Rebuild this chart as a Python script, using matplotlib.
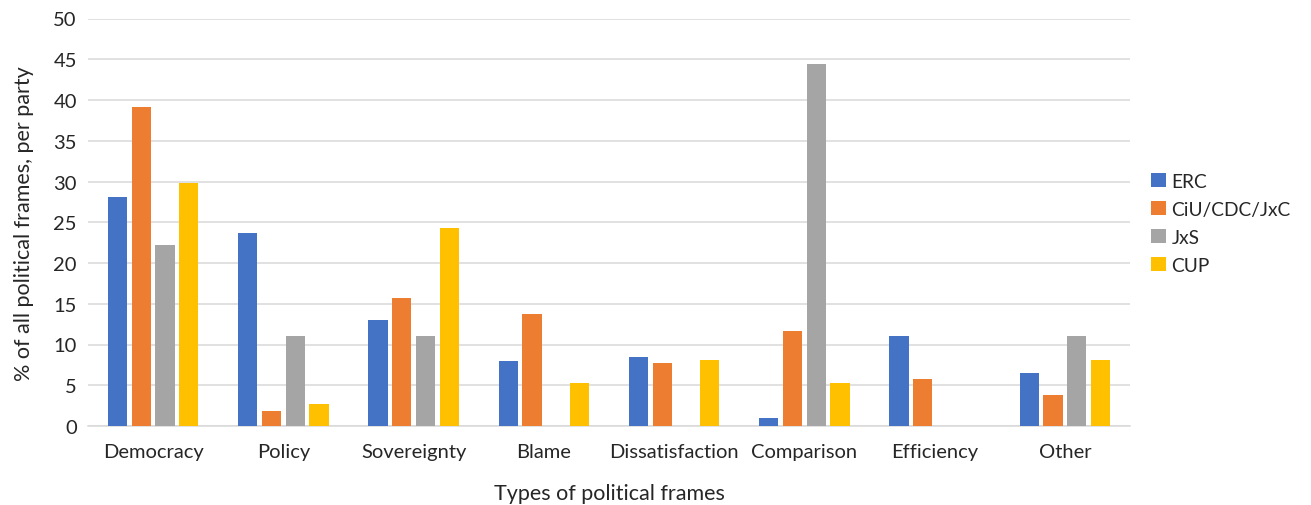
import numpy as np
import matplotlib
matplotlib.use("Agg")
import matplotlib.pyplot as plt

plt.rcParams['font.family'] = ['Lato', 'DejaVu Sans']

# категорії та значення (% від усіх політичних фреймів)
categories = ["Democracy", "Policy", "Sovereignty", "Blame",
              "Dissatisfaction", "Comparison", "Efficiency", "Other"]
parties = ["ERC", "CiU/CDC/JxC", "JxS", "CUP"]
erc = [28.1, 23.7, 13.0, 8.0, 8.5, 1.0, 11.0, 6.5]
ciu = [39.2, 1.8, 15.7, 13.7, 7.7, 11.65, 5.8, 3.8]
jxs = [22.2, 11.0, 11.0, 0, 0, 44.4, 0, 11.0]
cup = [29.8, 2.7, 24.3, 5.3, 8.1, 5.3, 0, 8.1]
series = [erc, ciu, jxs, cup]
colors = ["#4472C4", "#ED7D31", "#A5A5A5", "#FFC000"]

fig = plt.figure(figsize=(13.11, 5.06), dpi=100)
ax = fig.add_axes([88 / 1311, 1 - 427 / 506, 1042 / 1311, 407.5 / 506])

x = np.arange(len(categories))
step = 0.182
width = 0.147
for k, (vals, name, col) in enumerate(zip(series, parties, colors)):
    ax.bar(x + (k - 1.5) * step, vals, width, color=col, label=name, zorder=3)

ax.set_xlim(-0.5, len(categories) - 0.5)
ax.set_ylim(0, 50)
ax.set_yticks(np.arange(0, 51, 5))
ax.set_xticks(x)
ax.set_xticklabels(categories, fontsize=14.5, color="#262626")
ax.tick_params(axis="y", labelsize=14.5, colors="#262626", length=0, pad=8)
ax.tick_params(axis="x", length=0, pad=12)
ax.grid(axis="y", color="#D9D9D9", lw=1.1, zorder=0)
for s in ["top", "right", "left"]:
    ax.spines[s].set_visible(False)
ax.spines["bottom"].set_color("#D9D9D9")
ax.spines["bottom"].set_linewidth(1.1)

ax.set_xlabel("Types of political frames", fontsize=15.5, color="#262626", labelpad=17)
ax.set_ylabel("% of all political frames, per party", fontsize=15.5, color="#262626", labelpad=14)

ax.legend(loc="center left", bbox_to_anchor=(1.004, 0.497), frameon=False,
          fontsize=13.8, handlelength=0.75, handleheight=0.75, handletextpad=0.3,
          labelspacing=0.58, labelcolor="#262626")

fig.savefig("out.png", dpi=100)
